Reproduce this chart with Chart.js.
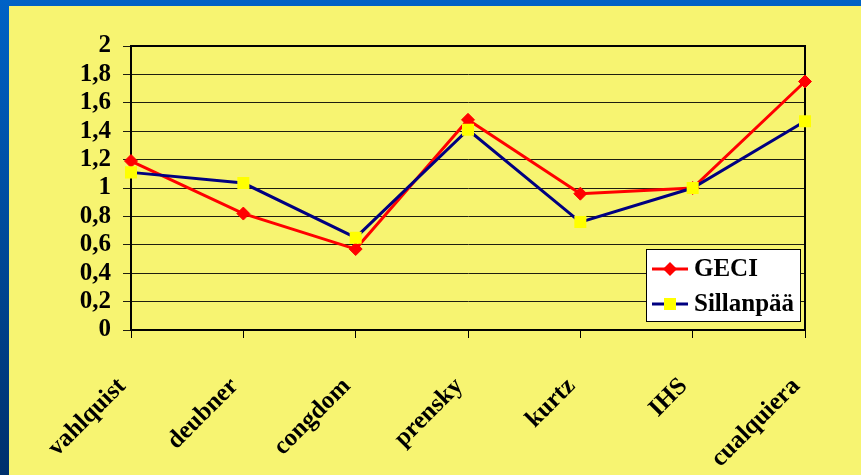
<!DOCTYPE html>
<html>
<head>
<meta charset="utf-8">
<script src="https://cdn.jsdelivr.net/npm/chart.js@4/dist/chart.umd.min.js"></script>
<style>
body{margin:0;}
#frame{position:relative;width:861px;height:475px;background:linear-gradient(#0062c6,#00306c);overflow:hidden;}
#panel{position:absolute;left:9px;top:6px;width:852px;height:469px;background:#f7f471;}
#myChart{display:block;}
</style>
</head>
<body>
<div id="frame"><div id="panel"><canvas id="myChart" width="852" height="469"></canvas></div></div>
<script>
var categories = ["vahlquist", "deubner", "congdom", "prensky", "kurtz", "IHS", "cualquiera"];
var geci_values = [1.19, 0.82, 0.57, 1.48, 0.96, 1.0, 1.75];
var sillanpaa_values = [1.11, 1.035, 0.65, 1.41, 0.76, 1.0, 1.47];
var series_names = ["GECI", "Sillanpää"];
var y_tick_labels = ["0", "0,2", "0,4", "0,6", "0,8", "1", "1,2", "1,4", "1,6", "1,8", "2"];

var label_font = {family: "'Times New Roman', 'Liberation Serif', serif", size: 25, weight: "bold"};

// top + right border of the plot box
var frame_plugin = {
  id: "frame",
  beforeDatasetsDraw: function(chart){
    var a = chart.chartArea, ctx = chart.ctx;
    ctx.save();
    ctx.strokeStyle = "#000";
    ctx.lineWidth = 2;
    ctx.beginPath();
    ctx.moveTo(a.left, a.top);
    ctx.lineTo(a.right, a.top);
    ctx.lineTo(a.right, a.bottom);
    ctx.stroke();
    ctx.restore();
  }
};

function draw_marker(ctx, style, x, y, color){
  ctx.fillStyle = color;
  ctx.beginPath();
  if(style == "rectRot"){
    ctx.moveTo(x, y - 7);
    ctx.lineTo(x + 7, y);
    ctx.lineTo(x, y + 7);
    ctx.lineTo(x - 7, y);
    ctx.closePath();
  } else {
    ctx.rect(x - 6, y - 6, 12, 12);
  }
  ctx.fill();
}

// legend box inside the plot, bottom right
var legend_plugin = {
  id: "boxLegend",
  afterDraw: function(chart){
    var ctx = chart.ctx;
    ctx.save();
    ctx.fillStyle = "#fff";
    ctx.fillRect(637.5, 243.5, 154, 72);
    ctx.strokeStyle = "#000";
    ctx.lineWidth = 1;
    ctx.strokeRect(637.5, 243.5, 154, 72);
    var sets = chart.data.datasets;
    for(var i = 0; i < sets.length; i++){
      var y = 263 + i * 35;
      ctx.strokeStyle = sets[i].borderColor;
      ctx.lineWidth = 3;
      ctx.beginPath();
      ctx.moveTo(643, y);
      ctx.lineTo(679, y);
      ctx.stroke();
      draw_marker(ctx, sets[i].pointStyle, 661, y, sets[i].pointBackgroundColor);
      ctx.fillStyle = "#000";
      ctx.font = "bold 25px 'Times New Roman', 'Liberation Serif', serif";
      ctx.textBaseline = "middle";
      ctx.textAlign = "left";
      ctx.fillText(sets[i].label, 685, y + 1);
    }
    ctx.restore();
  }
};

var ctx = document.getElementById("myChart").getContext("2d");
var chart = new Chart(ctx, {
  type: "line",
  data: {
    labels: categories,
    datasets: [
      {
        label: series_names[0],
        data: geci_values,
        borderColor: "#ff0000",
        backgroundColor: "#ff0000",
        pointBackgroundColor: "#ff0000",
        pointBorderColor: "#ff0000",
        pointStyle: "rectRot",
        pointRadius: 6.5,
        pointBorderWidth: 1,
        borderWidth: 3,
        tension: 0,
        order: 1
      },
      {
        label: series_names[1],
        data: sillanpaa_values,
        borderColor: "#000080",
        backgroundColor: "#ffff00",
        pointBackgroundColor: "#ffff00",
        pointBorderColor: "#ffff00",
        pointStyle: "rect",
        pointRadius: 8.5,
        pointBorderWidth: 0,
        borderWidth: 3,
        tension: 0,
        order: 0
      }
    ]
  },
  options: {
    responsive: false,
    animation: false,
    layout: {padding: {top: 40, right: 56, left: 0, bottom: 0}},
    plugins: {
      legend: {display: false},
      tooltip: {enabled: false}
    },
    scales: {
      x: {
        type: "category",
        offset: false,
        afterFit: function(scale){ scale.height = 145; },
        grid: {drawOnChartArea: false, tickLength: 8, color: "#000", lineWidth: 1},
        border: {color: "#000", width: 2},
        ticks: {
          color: "#000",
          font: label_font,
          maxRotation: 45,
          minRotation: 45,
          autoSkip: false,
          padding: 25,
          // trailing en space nudges the rotated label down-left
          callback: function(v, i){ return categories[i] + "\u2002"; }
        }
      },
      y: {
        min: 0,
        max: 2,
        afterFit: function(scale){ scale.width = 122; },
        grid: {color: "#1e1e10", lineWidth: 1, tickLength: 8},
        border: {color: "#000", width: 2},
        ticks: {
          stepSize: 0.2,
          autoSkip: false,
          color: "#000",
          font: label_font,
          padding: 12,
          callback: function(v, i){ return y_tick_labels[i]; }
        }
      }
    }
  },
  plugins: [frame_plugin, legend_plugin]
});
</script>
</body>
</html>
